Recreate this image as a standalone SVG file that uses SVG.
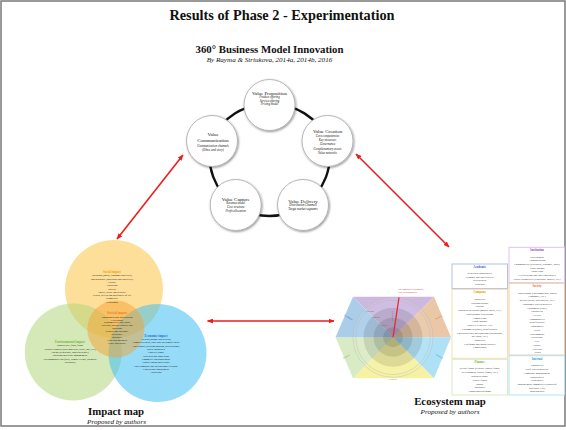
<svg xmlns="http://www.w3.org/2000/svg" width="566" height="430" viewBox="0 0 566 430">
<defs>
<style>
text{font-family:"Liberation Serif","Times New Roman",serif;text-anchor:middle;fill:#111}
.h1{font-size:14.3px;font-weight:bold}
.h2{font-size:10.8px;font-weight:bold}
.by{font-size:7.1px;font-style:italic}
.nt{font-size:4.9px}
.ni{font-size:3.1px;font-style:italic}
.vh{font-size:3.1px;font-weight:bold}
.vi{font-size:2.6px}
.bh{font-size:3px;font-weight:bold}
.bi{font-size:2.8px;fill:#333}
.node{fill:#fff;stroke:#a8a8a8;stroke-width:0.8;filter:url(#sh)}
.arr{stroke:#ee1d1d;stroke-width:1.6;fill:none;marker-start:url(#ah);marker-end:url(#ah)}
.box{fill:#fff;stroke-width:1}
.sl{font-size:2.4px}
</style>
<filter id="sh" x="-20%" y="-20%" width="150%" height="150%">
<feDropShadow dx="0.8" dy="1" stdDeviation="1" flood-color="#000" flood-opacity="0.45"/>
</filter>
<marker id="ah" viewBox="0 0 6 5" refX="5.5" refY="2.5" markerWidth="6" markerHeight="5" markerUnits="userSpaceOnUse" orient="auto-start-reverse">
<path d="M0,0 L6,2.5 L0,5 z" fill="#ee1d1d"/>
</marker>
</defs>
<rect x="1" y="1" width="564" height="425" fill="#fff" stroke="#7a7a7a" stroke-width="1.5"/>
<text class="h1" x="282" y="19.5">Results of Phase 2 - Experimentation</text>
<text class="h2" x="269.5" y="52.5">360° Business Model Innovation</text>
<text class="by" x="269.5" y="62">By Rayma &amp; Striukova, 2014a, 2014b, 2016</text>

<g id="connectors">
<path d="M269.5,105 A57,57 0 0 1 327.5,141 A57,57 0 0 1 303,205 A57,57 0 0 1 235.7,205 A57,57 0 0 1 212,141 A57,57 0 0 1 269.5,105 Z" fill="none" stroke="#111" stroke-width="2.4"/>
<line class="arr" x1="183" y1="155" x2="117" y2="239"/>
<line class="arr" x1="356" y1="154" x2="449" y2="247"/>
<line class="arr" x1="207.5" y1="321" x2="334" y2="321"/>
</g>

<g id="value-proposition">
<circle class="node" cx="269.5" cy="105" r="25.5"/>
<text class="nt" x="269.5" y="95">Value Proposition</text>
<text class="ni" x="269.5" y="98.2">Product offering</text>
<text class="ni" x="269.5" y="101.5">Service offering</text>
<text class="ni" x="269.5" y="104.8">Pricing model</text>
</g>
<g id="value-creation">
<circle class="node" cx="327.5" cy="141" r="25.5"/>
<text class="nt" x="327.5" y="133">Value Creation</text>
<text class="ni" x="327.5" y="137.1">Core competencies</text>
<text class="ni" x="327.5" y="141.2">Key resources</text>
<text class="ni" x="327.5" y="145.4">Governance</text>
<text class="ni" x="327.5" y="149.7">Complementary assets</text>
<text class="ni" x="327.5" y="154.1">Value networks</text>
</g>
<g id="value-delivery">
<circle class="node" cx="303" cy="205" r="25.5"/>
<text class="nt" x="303" y="202.8">Value Delivery</text>
<text class="ni" x="303" y="206.3">Distribution Channels</text>
<text class="ni" x="303" y="210.3">Target market segments</text>
</g>
<g id="value-capture">
<circle class="node" cx="235.7" cy="205" r="25.5"/>
<text class="nt" x="235.7" y="200.8">Value Capture</text>
<text class="ni" x="235.7" y="204.4">Revenue model</text>
<text class="ni" x="235.7" y="208.3">Cost structure</text>
<text class="ni" x="235.7" y="212.2">Profit allocation</text>
</g>
<g id="value-communication">
<circle class="node" cx="212" cy="141" r="25.5"/>
<text class="nt" x="213" y="136">Value</text>
<text class="nt" x="213" y="142.3">Communication</text>
<text class="ni" x="213" y="147.2">Communication channels</text>
<text class="ni" x="213" y="151.2">(Ethos and story)</text>
</g>

<g id="impact-map">
<circle cx="114" cy="289" r="49" fill="#fdca55" fill-opacity="0.6"/>
<circle cx="73.3" cy="352" r="48.5" fill="#b2d67e" fill-opacity="0.55"/>
<circle cx="157.5" cy="353" r="49" fill="#3fc0f2" fill-opacity="0.55"/>
<circle cx="115.8" cy="329" r="28.5" fill="#f3a233" fill-opacity="0.5"/>
<text class="vh" x="112" y="273" style="fill:#f0a400">Social impact</text>
<text class="vi" x="112" y="276.3">Inclusion (social, economic and civic)</text>
<text class="vi" x="112" y="279.6">Independence (individual and collective)</text>
<text class="vi" x="112" y="282.9">Culture</text>
<text class="vi" x="112" y="286.2">Education</text>
<text class="vi" x="112" y="289.5">Poverty</text>
<text class="vi" x="112" y="292.8">Justice, peace and security</text>
<text class="vi" x="112" y="296.1">Health, well-being and quality of life</text>
<text class="vi" x="112" y="299.4">Democracy</text>
<text class="vi" x="112" y="302.7">Citizenship</text>
<text class="vh" x="117" y="314.3" style="fill:#e8861a">Societal impact</text>
<text class="vi" x="117" y="317.6">Engagement and participation</text>
<text class="vi" x="117" y="320.5">Citizenship</text>
<text class="vi" x="117" y="323.4">Responsibility and ethics</text>
<text class="vi" x="117" y="326.3">Diversity, gender equality and</text>
<text class="vi" x="117" y="329.2">inclusion</text>
<text class="vi" x="117" y="332.1">Respect and tolerance</text>
<text class="vi" x="117" y="335">Resilience</text>
<text class="vi" x="117" y="337.9">Solidarity</text>
<text class="vi" x="117" y="340.8">Trust and openness</text>
<text class="vi" x="117" y="343.7">Peace and justice</text>
<text class="vh" x="70" y="343" style="fill:#74b83a">Environmental impact</text>
<text class="vi" x="70" y="346.3">Biodiversity, flora, fauna</text>
<text class="vi" x="70" y="349.6">Natural resources (raw materials, water, soil, etc.)</text>
<text class="vi" x="70" y="352.9">Energy (renewable, non-renewable)</text>
<text class="vi" x="70" y="356.2">Pollution and waste management</text>
<text class="vi" x="70" y="359.5">Environmental risk (fires, climate events, chemical</text>
<text class="vi" x="70" y="362.8">accidents)</text>
<text class="vh" x="156" y="336.8" style="fill:#1877c9">Economic impact</text>
<text class="vi" x="156" y="340.1">Wealth (income and wealth)</text>
<text class="vi" x="156" y="343.4">Competitiveness, trade and investment flows</text>
<text class="vi" x="156" y="346.7">Governance (decision-making, participation)</text>
<text class="vi" x="156" y="350">Public authorities</text>
<text class="vi" x="156" y="353.3">Property rights</text>
<text class="vi" x="156" y="356.6">Research and innovation</text>
<text class="vi" x="156" y="359.9">Commerce and households</text>
<text class="vi" x="156" y="363.2">Supply chains and sectors</text>
<text class="vi" x="156" y="366.5">Inter-company and international relations</text>
<text class="vi" x="156" y="369.8">Growth and employment</text>
<text class="vi" x="156" y="373.1">Education</text>
<text class="h2" x="116" y="415">Impact map</text>
<text class="by" x="116.5" y="424">Proposed by authors</text>
</g>

<g id="ecosystem-map">
<polygon points="393,337.3 353,296.7 434,296.7" fill="#cdb9e0"/>
<polygon points="393,337.3 434,296.7 451,337.3" fill="#eac7a6"/>
<polygon points="393,337.3 451,337.3 434,378.3" fill="#aee1f6"/>
<polygon points="393,337.3 434,378.3 353,378.3" fill="#f6f2a2"/>
<polygon points="393,337.3 353,378.3 335.5,337.3" fill="#d9ebc4"/>
<polygon points="393,337.3 335.5,337.3 353,296.7" fill="#abcdea"/>
<circle cx="393" cy="337.3" r="40" fill="#fff" fill-opacity="0.08" stroke="#b5b5b5" stroke-width="0.4"/>
<circle cx="393" cy="337.3" r="37.3" fill="none" stroke="#b5b5b5" stroke-width="0.4"/>
<circle cx="393" cy="337.3" r="29.5" fill="#000" fill-opacity="0.1"/>
<circle cx="393" cy="337.3" r="19.5" fill="#000" fill-opacity="0.1"/>
<circle cx="393" cy="337.3" r="10" fill="#000" fill-opacity="0.1"/>
<line x1="393" y1="337.3" x2="399" y2="297.5" stroke="#e8283a" stroke-width="1.3"/>
<text x="398" y="290" style="font-size:2.3px;fill:#e8283a;text-anchor:start">The company's relationship</text>
<text x="398" y="292.5" style="font-size:2.3px;fill:#e8283a;text-anchor:start">with its stakeholders</text>
<text class="sl" x="370" y="311.5" style="fill:#666">External</text>
<text class="sl" x="376.5" y="318.3" style="fill:#666">Indirect</text>
<text class="sl" x="384" y="326.3" style="fill:#666">Direct</text>
<text class="sl" transform="translate(348,318) rotate(30)" style="fill:#2f5ea8">Academic</text>
<text class="sl" transform="translate(439,318) rotate(-30)" style="fill:#c86a20">Society</text>
<text class="sl" transform="translate(439,357) rotate(30)" style="fill:#1a90c8">Internal</text>
<text class="sl" transform="translate(347,357) rotate(-30)" style="fill:#6aaa30">Finance</text>
<text class="sl" transform="translate(393.2,316) rotate(-90)" style="fill:#7a48a8">Institution</text>
<text class="sl" x="393" y="380.2" style="fill:#d8a000">Company</text>

<rect class="box" x="452" y="264" width="55.5" height="24.5" stroke="#b3bfe9"/>
<text class="bh" x="479.7" y="268.4" style="fill:#3d5fbf">Academic</text>
<text class="bi" x="479.7" y="274.3">Research laboratories</text>
<text class="bi" x="479.7" y="277.7">Schools and universities</text>
<text class="bi" x="479.7" y="281.1">Researchers</text>
<text class="bi" x="479.7" y="284.5">Students</text>

<rect class="box" x="452" y="289.3" width="55.5" height="69" stroke="#f5deb4"/>
<text class="bh" x="479.7" y="293.3" style="fill:#dc9c00">Company</text>
<text class="bi" x="479.7" y="300">Suppliers</text>
<text class="bi" x="479.7" y="303.73">Subcontractors</text>
<text class="bi" x="479.7" y="307.46">Startup</text>
<text class="bi" x="479.7" y="311.19">Business networks (master chefs, etc.)</text>
<text class="bi" x="479.7" y="314.92">Professional federations</text>
<text class="bi" x="479.7" y="318.65">Competitors</text>
<text class="bi" x="479.7" y="322.38">Large groups</text>
<text class="bi" x="479.7" y="326.11">SMEs/ETI/MIDCAPS</text>
<text class="bi" x="479.7" y="329.84">Customers (B2B), beneficiaries</text>
<text class="bi" x="479.7" y="333.57">Entrepreneurial mechanisms (incubators,</text>
<text class="bi" x="479.7" y="337.3">pre-pubs, etc.)</text>
<text class="bi" x="479.7" y="341.03">Suppliers</text>
<text class="bi" x="479.7" y="344.76">Platforms and marketplaces</text>
<text class="bi" x="479.7" y="348.49">Consultants</text>

<rect class="box" x="452" y="359.3" width="55.5" height="35.7" stroke="#d8ecc2"/>
<text class="bh" x="479.7" y="363.3" style="fill:#68b030">Finance</text>
<text class="bi" x="479.7" y="369.3">Private funds (venture capital funds,</text>
<text class="bi" x="479.7" y="373.1">development capital funds, etc.)</text>
<text class="bi" x="479.7" y="376.9">Business angel</text>
<text class="bi" x="479.7" y="380.7">Public funds</text>
<text class="bi" x="479.7" y="384.5">Banks</text>
<text class="bi" x="479.7" y="388.3">Insurance</text>
<text class="bi" x="479.7" y="392.1">Financing platforms</text>

<rect class="box" x="509" y="247.3" width="55.5" height="35.4" stroke="#dcc4ee"/>
<text class="bh" x="537" y="251" style="fill:#8448b0">Institution</text>
<text class="bi" x="537" y="257.6">Government</text>
<text class="bi" x="537" y="261.2">Administration</text>
<text class="bi" x="537" y="264.9">Communities (territorial, regional, local)</text>
<text class="bi" x="537" y="268.6">Trade unions</text>
<text class="bi" x="537" y="272.3">Think tank</text>
<text class="bi" x="537" y="276">Certification and labelling bodies</text>
<text class="bi" x="537" y="279.7">Public authorities (regulatory bodies, etc.)</text>

<rect class="box" x="509" y="283.3" width="55.5" height="71.7" stroke="#f7caa2"/>
<text class="bh" x="537" y="287" style="fill:#e07420">Society</text>
<text class="bi" x="537" y="293.6">Associations (environmental, social,</text>
<text class="bi" x="537" y="297.33">economic, etc.)</text>
<text class="bi" x="537" y="301.06">Media (press, influencers, etc.)</text>
<text class="bi" x="537" y="304.79">Consumer representatives</text>
<text class="bi" x="537" y="308.52">Customers (B2C)</text>
<text class="bi" x="537" y="312.25">Volunteers</text>
<text class="bi" x="537" y="315.98">NGOs</text>
<text class="bi" x="537" y="319.71">Communities</text>
<text class="bi" x="537" y="323.44">Beneficiaries</text>
<text class="bi" x="537" y="327.17">Consumers</text>
<text class="bi" x="537" y="330.9">Users</text>
<text class="bi" x="537" y="334.63">Environment</text>
<text class="bi" x="537" y="338.36">Residents</text>
<text class="bi" x="537" y="342.09">City</text>
<text class="bi" x="537" y="345.82">Nature</text>
<text class="bi" x="537" y="349.55">Citizens</text>
<text class="bi" x="537" y="353.28">Artists</text>

<rect class="box" x="509" y="355.7" width="55.5" height="39.3" stroke="#b2e3f4"/>
<text class="bh" x="537" y="359.7" style="fill:#1c9ccf">Internal</text>
<text class="bi" x="537" y="366">Employees</text>
<text class="bi" x="537" y="369.7">Staff representatives</text>
<text class="bi" x="537" y="373.6">Company management</text>
<text class="bi" x="537" y="377.5">Subsidiaries</text>
<text class="bi" x="537" y="381.3">Franchises</text>
<text class="bi" x="537" y="385.2">Management committees (board of</text>
<text class="bi" x="537" y="388.7">directors, etc.)</text>
<text class="bi" x="537" y="392.3">Shareholders</text>

<text class="h2" x="450" y="405.2">Ecosystem map</text>
<text class="by" x="450" y="413.5">Proposed by authors</text>
</g>
</svg>
